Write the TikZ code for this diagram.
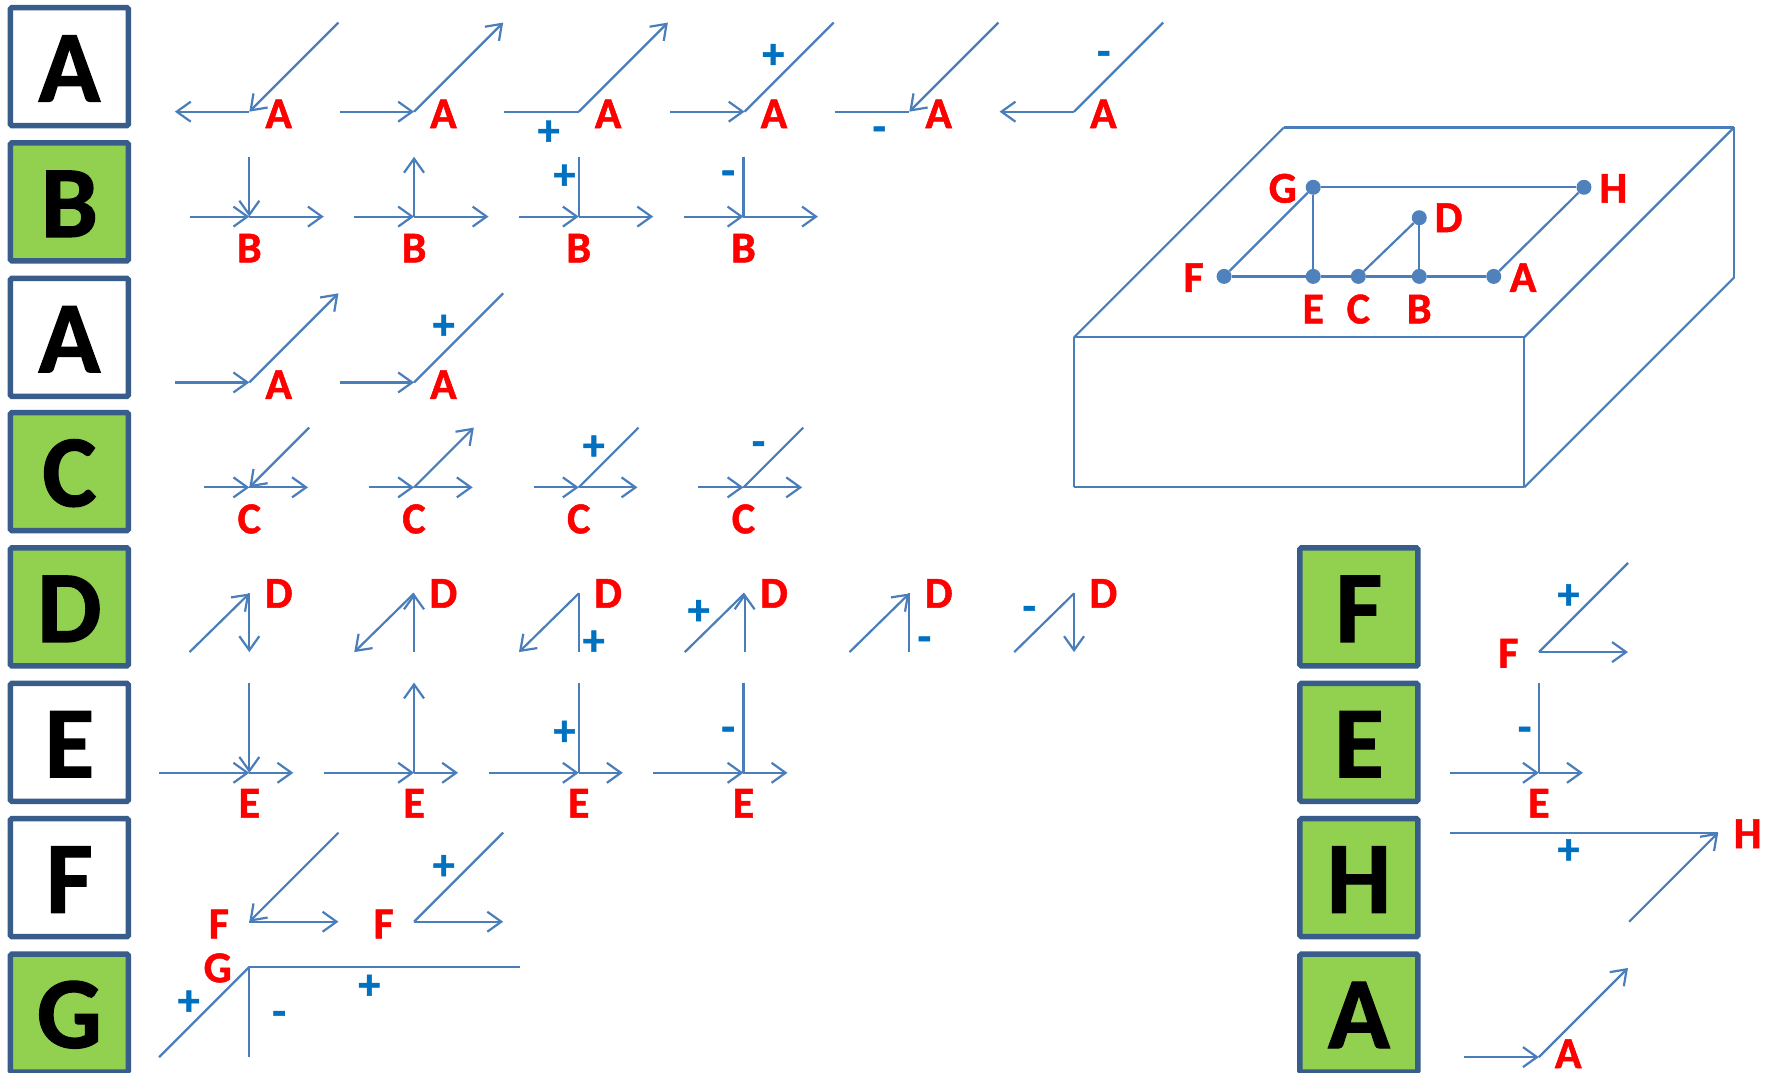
\documentclass[tikz,border=0pt]{standalone}
\usepackage{fontspec}
\usepackage{xcolor}
\setmainfont{Carlito}[BoldFeatures={FakeBold=1.2}]
\usetikzlibrary{arrows.meta}
\definecolor{linecol}{HTML}{4A7EBB}
\definecolor{framecol}{HTML}{385D8A}
\definecolor{fillcol}{HTML}{92D050}
\definecolor{signcol}{HTML}{0070C0}
\definecolor{dotcol}{HTML}{4F81BD}
\tikzset{
	wire/.style={linecol, line width=2.2pt},
	arw/.style={wire, -{Straight Barb[length=14pt, width=20pt, line width=2.2pt]}},
	topic/.style={draw=framecol, line width=5.5pt, rounded corners=1.5pt, minimum size=118pt, inner sep=0pt, text height=70pt, font=\fontsize{102}{102}\selectfont\bfseries},
	whitebox/.style={topic, fill=white},
	greenbox/.style={topic, fill=fillcol},
	redlbl/.style={red, inner sep=0pt, font=\fontsize{44}{44}\selectfont\bfseries},
	bluelbl/.style={signcol, inner sep=0pt, xshift=0.4pt, yshift=-3.2pt, font=\fontsize{44}{44}\selectfont\bfseries},
	dot/.style={circle, fill=dotcol, inner sep=0pt, minimum size=15pt},
}

\begin{document}
\begin{tikzpicture}[x=1.1282pt, y=-1.1282pt]
	\useasboundingbox (0,0) rectangle (1568,951);

	\foreach \n/\y/\t/\s in {1/59/A/whitebox, 2/179/B/greenbox, 3/299/A/whitebox, 4/418/C/greenbox, 5/538/D/greenbox, 6/658/E/whitebox, 7/778/F/whitebox, 8/898/G/greenbox} {
			\node[\s] (box-\n) at (61.5,\y) {\t};
		}
	\foreach \n/\y/\t in {1/538/F, 2/658/E, 3/778/H, 4/898/A} {
			\node[greenbox] (rbox-\n) at (1204.5,\y) {\t};
		}

	% row A, top
	\foreach \n/\x in {1/221, 2/367, 3/513, 4/660, 5/806, 6/952} {
			\coordinate (a\n) at (\x,99);
			\coordinate (a\n-u) at (\x+79,20);
			\coordinate (a\n-l) at (\x-66,99);
			\node[redlbl] (al-\n) at (\x+26,101) {A};
		}
	\foreach \p/\q in {a1-u/a1, a1/a1-l, a2-l/a2, a2/a2-u, a3/a3-u, a4-l/a4, a5-u/a5, a6/a6-l} {
			\draw[arw] (\p) -- (\q);
		}
	\foreach \p/\q in {a3-l/a3, a4/a4-u, a5-l/a5, a6/a6-u} {
			\draw[wire] (\p) -- (\q);
		}

	% row B
	\foreach \n/\x in {1/221, 2/367, 3/513, 4/659} {
			\coordinate (b\n) at (\x,192);
			\coordinate (b\n-u) at (\x,139);
			\coordinate (b\n-l) at (\x-53,192);
			\coordinate (b\n-r) at (\x+66,192);
			\node[redlbl] (bl-\n) at (\x,220) {B};
			\draw[arw] (b\n-l) -- (b\n);
			\draw[arw] (b\n) -- (b\n-r);
		}
	\draw[arw] (b1-u) -- (b1);
	\draw[arw] (b2) -- (b2-u);
	\draw[wire] (b3-u) -- (b3);
	\draw[wire] (b4-u) -- (b4);

	% second row A
	\foreach \n/\x in {1/221, 2/367} {
			\coordinate (d\n) at (\x,339);
			\coordinate (d\n-u) at (\x+79,260);
			\coordinate (d\n-l) at (\x-66,339);
			\node[redlbl] (dl-\n) at (\x+26,341) {A};
			\draw[arw] (d\n-l) -- (d\n);
		}
	\draw[arw] (d1) -- (d1-u);
	\draw[wire] (d2) -- (d2-u);

	% row C
	\foreach \n/\x in {1/221, 2/367, 3/513, 4/659} {
			\coordinate (c\n) at (\x,432);
			\coordinate (c\n-u) at (\x+53,379);
			\coordinate (c\n-l) at (\x-40,432);
			\coordinate (c\n-r) at (\x+52,432);
			\node[redlbl] (cl-\n) at (\x,460) {C};
			\draw[arw] (c\n-l) -- (c\n);
			\draw[arw] (c\n) -- (c\n-r);
		}
	\draw[arw] (c1-u) -- (c1);
	\draw[arw] (c2) -- (c2-u);
	\draw[wire] (c3) -- (c3-u);
	\draw[wire] (c4) -- (c4-u);

	% row D
	\foreach \n/\x in {1/221, 2/367, 3/513, 4/660, 5/806, 6/952} {
			\coordinate (e\n) at (\x,526);
			\coordinate (e\n-s) at (\x-53,578);
			\coordinate (e\n-d) at (\x,578);
			\node[redlbl] (el-\n) at (\x+26,526) {D};
		}
	\foreach \p/\q in {e1-s/e1, e1/e1-d, e2/e2-s, e2-d/e2, e3/e3-s, e4-d/e4, e5-s/e5, e6/e6-d} {
			\draw[arw] (\p) -- (\q);
		}
	\foreach \p/\q in {e3/e3-d, e4-s/e4, e5/e5-d, e6-s/e6} {
			\draw[wire] (\p) -- (\q);
		}

	% row E
	\foreach \n/\x in {1/221, 2/367, 3/513, 4/659} {
			\coordinate (f\n) at (\x,685);
			\coordinate (f\n-u) at (\x,605);
			\coordinate (f\n-l) at (\x-80,685);
			\coordinate (f\n-r) at (\x+39,685);
			\node[redlbl] (fl-\n) at (\x,712) {E};
			\draw[arw] (f\n-l) -- (f\n);
			\draw[arw] (f\n) -- (f\n-r);
		}
	\draw[arw] (f1-u) -- (f1);
	\draw[arw] (f2) -- (f2-u);
	\draw[wire] (f3-u) -- (f3);
	\draw[wire] (f4-u) -- (f4);

	% row F
	\foreach \n/\x in {1/221, 2/367} {
			\coordinate (g\n) at (\x,817);
			\coordinate (g\n-u) at (\x+79,738);
			\coordinate (g\n-r) at (\x+79,817);
			\node[redlbl] (gl-\n) at (\x-27,819) {F};
			\draw[arw] (g\n) -- (g\n-r);
		}
	\draw[arw] (g1-u) -- (g1);
	\draw[wire] (g2) -- (g2-u);

	% row G
	\coordinate (h1) at (221,857);
	\coordinate (h1-s) at (141,937);
	\coordinate (h1-d) at (221,937);
	\coordinate (h1-r) at (461,857);
	\node[redlbl] (hl-1) at (193,858) {G};
	\draw[wire] (h1-s) -- (h1);
	\draw[wire] (h1) -- (h1-d);
	\draw[wire] (h1) -- (h1-r);

	% right column
	\coordinate (k1) at (1364,578);
	\coordinate (k1-u) at (1443,499);
	\coordinate (k1-r) at (1443,578);
	\node[redlbl] (kl-1) at (1337,579) {F};
	\draw[wire] (k1) -- (k1-u);
	\draw[arw] (k1) -- (k1-r);

	\coordinate (k2) at (1364,685);
	\coordinate (k2-u) at (1364,605);
	\coordinate (k2-l) at (1285,685);
	\coordinate (k2-r) at (1403,685);
	\node[redlbl] (kl-2) at (1364,712) {E};
	\draw[wire] (k2-u) -- (k2);
	\draw[arw] (k2-l) -- (k2);
	\draw[arw] (k2) -- (k2-r);

	\coordinate (k3) at (1523,738);
	\coordinate (k3-l) at (1285,738);
	\coordinate (k3-s) at (1444,817);
	\node[redlbl] (kl-3) at (1549,739) {H};
	\draw[wire] (k3-l) -- (k3);
	\draw[arw] (k3-s) -- (k3);

	\coordinate (k4) at (1364,937);
	\coordinate (k4-l) at (1298,937);
	\coordinate (k4-u) at (1443,858);
	\node[redlbl] (kl-4) at (1390,934) {A};
	\draw[arw] (k4-l) -- (k4);
	\draw[arw] (k4) -- (k4-u);

	% signs
	\foreach \n/\x/\y/\t in {1/486/115/+, 2/685/47/+, 3/779/116/-, 4/978/49/-, 5/500/154/+, 6/645/155/-, 7/393/287/+, 8/526/394/+, 9/672/395/-, 10/526/567/+, 11/619/540/+, 12/819/568/-, 13/912/541/-, 14/500/647/+, 15/645/648/-, 16/393/766/+, 17/167/886/+, 18/327/872/+, 19/247/900/-, 20/1390/526/+, 21/1351/648/-, 22/1390/752/+} {
			\node[bluelbl] (sg-\n) at (\x,\y) {\t};
		}

	% solid
	\foreach \n/\x/\y in {fl/952/299, fr/1351/299, bl/952/432, br/1351/432, tl/1138/113, tr/1537/113, rb/1537/246} {
			\coordinate (s-\n) at (\x,\y);
		}
	\foreach \p/\q in {fl/fr, fr/br, br/bl, bl/fl, fl/tl, tl/tr, tr/fr, tr/rb, rb/br} {
			\draw[wire] (s-\p) -- (s-\q);
		}

	% plan on top of the solid
	\foreach \n/\x/\y/\lx/\ly in {G/1164/166/1137/167, H/1404/166/1430/167, D/1258/193/1284/193, F/1085/245/1058/246, E/1164/245/1164/274, C/1204/245/1204/274, B/1258/245/1258/274, A/1324/245/1350/246} {
			\node[dot] (v\n) at (\x,\y) {};
			\node[redlbl] (t\n) at (\lx,\ly) {\n};
		}
	\foreach \p/\q in {F/E, E/C, C/B, B/A, F/G, G/H, H/A, G/E, C/D, D/B} {
			\draw[wire] (v\p) -- (v\q);
		}
\end{tikzpicture}
\end{document}
